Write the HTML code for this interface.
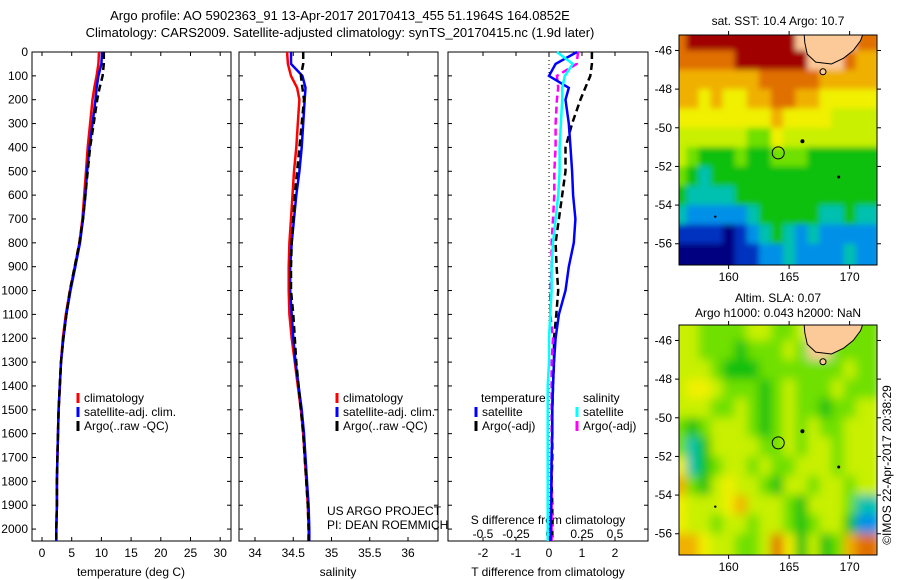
<!DOCTYPE html>
<html><head><meta charset="utf-8"><style>
body{margin:0;background:#fff;}
svg{display:block;font-family:"Liberation Sans",sans-serif;}
</style></head><body>
<svg id="fig" width="900" height="580" viewBox="0 0 900 580" xmlns="http://www.w3.org/2000/svg">
<defs>
<filter id="blurSST" x="-5%" y="-5%" width="110%" height="110%"><feGaussianBlur stdDeviation="3"/></filter>
<filter id="blurSLA" x="-5%" y="-5%" width="110%" height="110%"><feGaussianBlur stdDeviation="5"/></filter>
</defs>
<text x="340" y="20" font-size="13" text-anchor="middle">Argo profile: AO 5902363_91 13-Apr-2017 20170413_455 51.1964S 164.0852E</text>
<text x="340" y="37" font-size="13" text-anchor="middle">Climatology: CARS2009. Satellite-adjusted climatology: synTS_20170415.nc (1.9d later)</text>
<g id="g"></g>
</svg>
<script>
// ---- data ----
const depths=[0,50,100,150,200,300,400,500,600,700,800,900,1000,1100,1200,1300,1400,1500,1600,1700,1800,1900,2000,2050];
const tempClim=[9.6,9.5,9.2,8.8,8.5,8.1,7.7,7.4,7.1,6.8,6.3,5.5,4.7,4.0,3.5,3.2,3.0,2.8,2.7,2.6,2.5,2.5,2.4,2.4];
const tempSat=[10.1,10.0,9.5,9.2,9.0,8.5,8.0,7.6,7.3,6.9,6.4,5.6,4.8,4.1,3.6,3.2,3.0,2.8,2.7,2.6,2.5,2.5,2.4,2.4];
const tempArgo=[10.4,10.4,10.2,9.7,9.3,8.7,8.1,7.7,7.3,6.9,6.3,5.5,4.7,4.1,3.6,3.2,3.0,2.8,2.7,2.6,2.5,2.5,2.4,2.4];
const salClim=[34.42,34.43,34.47,34.55,34.58,34.56,34.54,34.51,34.49,34.47,34.45,34.44,34.44,34.45,34.48,34.52,34.56,34.6,34.63,34.65,34.67,34.69,34.7,34.7];
const salSat=[34.47,34.47,34.62,34.66,34.65,34.63,34.61,34.58,34.54,34.51,34.48,34.46,34.46,34.48,34.5,34.53,34.57,34.61,34.64,34.66,34.68,34.7,34.71,34.71];
const salArgo=[34.63,34.63,34.6,34.62,34.64,34.61,34.58,34.55,34.52,34.5,34.48,34.47,34.47,34.5,34.52,34.54,34.57,34.6,34.63,34.65,34.67,34.69,34.7,34.7];
const tDiffSat=[0.85,0.2,0.0,0.6,0.5,0.6,0.65,0.7,0.73,0.8,0.75,0.6,0.5,0.3,0.2,0.15,0.12,0.1,0.1,0.08,0.07,0.06,0.05,0.05];
const tDiffArgo=[1.3,1.3,1.25,1.1,0.95,0.7,0.5,0.5,0.4,0.3,0.2,0.23,0.28,0.22,0.15,0.15,0.12,0.1,0.1,0.1,0.08,0.1,0.1,0.1];
const sDiffSat=[0.06,0.18,0.12,0.1,0.1,0.09,0.08,0.08,0.07,0.05,0.03,0.02,0.02,0.01,0.0,0.0,-0.01,-0.01,-0.01,-0.01,-0.01,-0.01,-0.01,-0.01];
const sDiffArgo=[0.22,0.21,0.06,0.07,0.06,0.05,0.05,0.04,0.04,0.03,0.02,0.02,0.01,0.01,0.03,0.02,0.02,0.02,0.02,0.02,0.02,0.02,0.02,0.02];
const depthTicks=[0,100,200,300,400,500,600,700,800,900,1000,1100,1200,1300,1400,1500,1600,1700,1800,1900,2000];
const tempTicks=[0,5,10,15,20,25,30];
const salTicks=[34,34.5,35,35.5,36];
const tdTicks=[-2,-1,0,1,2];
const sdTicks=[-0.5,-0.25,0,0.25,0.5];
const lonTicks=[160,165,170];
const latTicks=[-46,-48,-50,-52,-54,-56];
const lonCells=[156,157,158,159,160,161,162,163,164,165,166,167,168,169,170,171];
const latCells=[-45,-46,-47,-48,-49,-50,-51,-52,-53,-54,-55,-56];
const sstGrid=[
[9,10,10,10,10,10,10,10,10,10,-1,-1,-1,-1,-1,9],
[9,9,9,9,9,10,10,10,10,10,10,-1,-1,-1,9,8],
[8,8,8,8,8,8,8,9,9,9,9,9,8,8,8,8],
[8,8,7,8,7,7,8,8,9,9,8,8,7,7,7,7],
[7,7,7,7,7,7,7,7,8,7,7,7,7,6,6,6],
[6,6,6,6,6,6,5,5,7,6,6,6,6,6,6,6],
[6,5,4,4,4,5,4,4,5,5,5,4,4,4,4,4],
[5,4,3,4,4,4,4,4,4,4,4,4,4,4,4,4],
[4,3,3,3,3,4,4,4,4,4,4,4,4,4,4,4],
[3,2,2,2,2,2,3,4,4,4,4,4,3,3,4,3],
[1,1,1,1,0,1,2,3,4,3,2,3,2,2,2,2],
[0,0,0,0,0,1,1,2,2,3,2,2,2,2,3,2]];
const slaGrid=[
[6,6,5,5,5,5,6,6,5,5,6,-1,-1,-1,5,5],
[6,6,5,5,5,4,5,5,5,6,5,-1,-1,5,5,5],
[6,6,6,5,4,4,4,5,5,5,5,5,5,5,6,5],
[6,7,7,6,5,5,5,4,5,6,5,5,5,6,5,5],
[6,6,6,5,5,6,5,4,5,6,5,5,4,5,5,6],
[5,4,5,6,6,6,5,4,5,6,5,6,5,5,6,6],
[5,3,4,6,6,6,6,5,5,6,5,6,6,5,6,6],
[7,3,4,5,6,6,5,6,5,5,6,6,6,5,6,6],
[8,5,4,6,7,6,6,5,4,6,6,5,6,6,5,6],
[7,6,6,6,7,8,6,6,6,5,4,6,6,6,5,3],
[7,6,6,5,6,6,5,6,6,5,4,5,6,6,4,2],
[8,8,7,6,6,5,5,6,9,7,4,6,4,5,8,9]];
const palette=["#000080","#0030c0","#0090e8","#00c0b0","#10c010","#70e000","#c8f000","#f0f000","#f0b000","#e07000","#a00000"];

// ---- helpers ----
const NS="http://www.w3.org/2000/svg";
const G=document.getElementById('g');
function el(tag,attrs,parent){const e=document.createElementNS(NS,tag);for(const k in attrs)e.setAttribute(k,attrs[k]);(parent||G).appendChild(e);return e;}
function txt(x,y,s,anchor,size,parent){const t=el('text',{x:x,y:y,'font-size':size||12,'text-anchor':anchor||'middle'},parent);t.textContent=s;return t;}
const Y=d=>52+d*(489/2050);
function panel(x0,x1,name){
  const r=el('rect',{x:x0,y:52,width:x1-x0,height:489,fill:'none',stroke:'#000','stroke-width':1});
  
  
}
function line(xs,xfun,color,dash,name,width){
  let pts=[];for(let i=0;i<depths.length;i++){if(xs[i]==null)continue;pts.push(xfun(xs[i]).toFixed(1)+','+Y(depths[i]).toFixed(1));}
  const p=el('polyline',{points:pts.join(' '),fill:'none',stroke:color,'stroke-width':width||2.5});
  if(dash)p.setAttribute('stroke-dasharray',dash);
  
  
}
function legend(x,y,items){
  items.forEach((it,i)=>{
    el('line',{x1:x,y1:y+i*14-9,x2:x,y2:y+i*14+1,stroke:it[1],'stroke-width':3});
    const t=txt(x+6,y+i*14,it[0],'start',12);
    
    
  });
}

// ---- panel 1: temperature ----
const xT=v=>42+v*5.94;
panel(32,231,'temperature-panel');
depthTicks.forEach(d=>{el('line',{x1:32,y1:Y(d),x2:36,y2:Y(d),stroke:'#000'});el('line',{x1:231,y1:Y(d),x2:227,y2:Y(d),stroke:'#000'});
  const t=txt(28,Y(d)+4,String(d),'end',12);});
tempTicks.forEach(v=>{el('line',{x1:xT(v),y1:52,x2:xT(v),y2:56,stroke:'#000'});el('line',{x1:xT(v),y1:541,x2:xT(v),y2:537,stroke:'#000'});
  const t=txt(xT(v),557,String(v));});
txt(131,576,'temperature (deg C)');
line(tempClim,xT,'#f00',null,'temp-climatology-line');
line(tempSat,xT,'#00f',null,'temp-satellite-line');
line(tempArgo,xT,'#000','7,4','temp-argo-line');
legend(78,402,[['climatology','#f00'],['satellite-adj. clim.','#00f'],['Argo(..raw -QC)','#000']]);

// ---- panel 2: salinity ----
const xS=v=>255+(v-34)*76.5;
panel(239,438,'salinity-panel');
depthTicks.forEach(d=>{el('line',{x1:239,y1:Y(d),x2:243,y2:Y(d),stroke:'#000'});el('line',{x1:438,y1:Y(d),x2:434,y2:Y(d),stroke:'#000'});});
salTicks.forEach(v=>{el('line',{x1:xS(v),y1:52,x2:xS(v),y2:56,stroke:'#000'});el('line',{x1:xS(v),y1:541,x2:xS(v),y2:537,stroke:'#000'});
  const t=txt(xS(v),557,String(v));});
txt(338,576,'salinity');
line(salClim,xS,'#f00',null,'sal-climatology-line');
line(salSat,xS,'#00f',null,'sal-satellite-line');
line(salArgo,xS,'#000','7,4','sal-argo-line');
legend(337,402,[['climatology','#f00'],['satellite-adj. clim.','#00f'],['Argo(..raw -QC)','#000']]);
txt(327,515,'US ARGO PROJECT','start',12);
txt(327,529,'PI: DEAN ROEMMICH','start',12);

// ---- panel 3: differences ----
const xTD=v=>549+v*33;
const xSD=v=>549+v*132;
panel(448,648,'difference-panel');
depthTicks.forEach(d=>{el('line',{x1:448,y1:Y(d),x2:452,y2:Y(d),stroke:'#000'});el('line',{x1:648,y1:Y(d),x2:644,y2:Y(d),stroke:'#000'});});
el('line',{x1:549,y1:52,x2:549,y2:541,stroke:'#000','stroke-dasharray':'1,3'});
tdTicks.forEach(v=>{el('line',{x1:xTD(v),y1:52,x2:xTD(v),y2:56,stroke:'#000'});el('line',{x1:xTD(v),y1:541,x2:xTD(v),y2:537,stroke:'#000'});
  const t=txt(xTD(v),557,String(v));});
sdTicks.forEach(v=>{const t=txt(xSD(v),538,String(v));});
txt(548,524,'S difference from climatology');
txt(548,576,'T difference from climatology');
line(tDiffArgo,xTD,'#000','7,4','tdiff-argo-line');
line(sDiffArgo,xSD,'#f0f','7,4','sdiff-argo-line');
line(tDiffSat,xTD,'#00f',null,'tdiff-satellite-line');
line(sDiffSat,xSD,'#0ff',null,'sdiff-satellite-line');
txt(481,402,'temperature','start',12);
txt(583,402,'salinity','start',12);
legend(476,416,[['satellite','#00f'],['Argo(-adj)','#000']]);
legend(577,416,[['satellite','#0ff'],['Argo(-adj)','#f0f']]);

// ---- maps ----
function map(top,bottom,grid,name,filt){
  const lx=v=>679+(v-155.9)*12.1;
  const ly=v=>top+(-45.2-v)*((bottom-top)/11.9);
  const cg=el('g',{});
  
  
  const cid='clip'+top;
  const cp=el('clipPath',{id:cid});el('rect',{x:679,y:top,width:198,height:bottom-top},cp);
  const outer=el('g',{'clip-path':'url(#'+cid+')'},cg);
  const inner=el('g',{filter:'url(#'+filt+')'},outer);
  const ch=(bottom-top)/11.9;
  grid.forEach((row,i)=>row.forEach((v,j)=>{
    const x=lx(lonCells[j]-0.5);
    let y=ly(latCells[i]), h=ch+0.6;
    if(i===0){y-=ch;h+=ch;}
    if(i===grid.length-1){h+=ch;}
    let w=12.7; let xx=x;
    if(j===0){xx-=12;w+=12;}
    if(j===row.length-1){w+=12;}
    el('rect',{x:xx.toFixed(1),y:y.toFixed(1),width:w.toFixed(1),height:h.toFixed(1),fill:v<0?'#fcc999':palette[v]},inner);
  }));
  // land
  const land=[[166.2,-44.8],[166.3,-45.6],[166.5,-46.2],[167.2,-46.6],[168.5,-46.7],[169.5,-46.4],[170.3,-46.0],[170.9,-45.5],[171.3,-44.8]];
  el('polygon',{points:land.map(p=>lx(p[0]).toFixed(1)+','+ly(p[1]).toFixed(1)).join(' '),fill:'#fcc999',stroke:'#000','stroke-width':1},outer);
  el('circle',{cx:lx(167.8),cy:ly(-47.1),r:3,fill:'#fcc999',stroke:'#000'},outer);
  el('circle',{cx:lx(166.1),cy:ly(-50.7),r:2,fill:'#000'},outer);
  el('circle',{cx:lx(169.1),cy:ly(-52.55),r:1.5,fill:'#000'},outer);
  el('circle',{cx:lx(158.9),cy:ly(-54.6),r:1.2,fill:'#000'},outer);
  const c=el('circle',{cx:lx(164.1),cy:ly(-51.3),r:6,fill:'none',stroke:'#000'},cg);
  
  
  el('rect',{x:679,y:top,width:198,height:bottom-top,fill:'none',stroke:'#000'},cg);
  lonTicks.forEach(v=>{el('line',{x1:lx(v),y1:top,x2:lx(v),y2:top-4,stroke:'#000'});el('line',{x1:lx(v),y1:bottom,x2:lx(v),y2:bottom+4,stroke:'#000'});
    const t=txt(lx(v),bottom+16,String(v));});
  latTicks.forEach(v=>{el('line',{x1:679,y1:ly(v),x2:675,y2:ly(v),stroke:'#000'});el('line',{x1:877,y1:ly(v),x2:881,y2:ly(v),stroke:'#000'});
    const t=txt(672,ly(v)+4,String(v),'end');});
}
map(35,265,sstGrid,'sst-map','blurSST');
map(325,555,slaGrid,'sla-map','blurSLA');
txt(778,25,'sat. SST: 10.4 Argo: 10.7');
txt(778,302,'Altim. SLA: 0.07');
txt(778,317,'Argo h1000: 0.043 h2000: NaN');
const ts=txt(0,0,'©IMOS 22-Apr-2017 20:38:29','middle',12);
ts.setAttribute('transform','translate(891,465) rotate(-90)');


</script>
</body></html>
